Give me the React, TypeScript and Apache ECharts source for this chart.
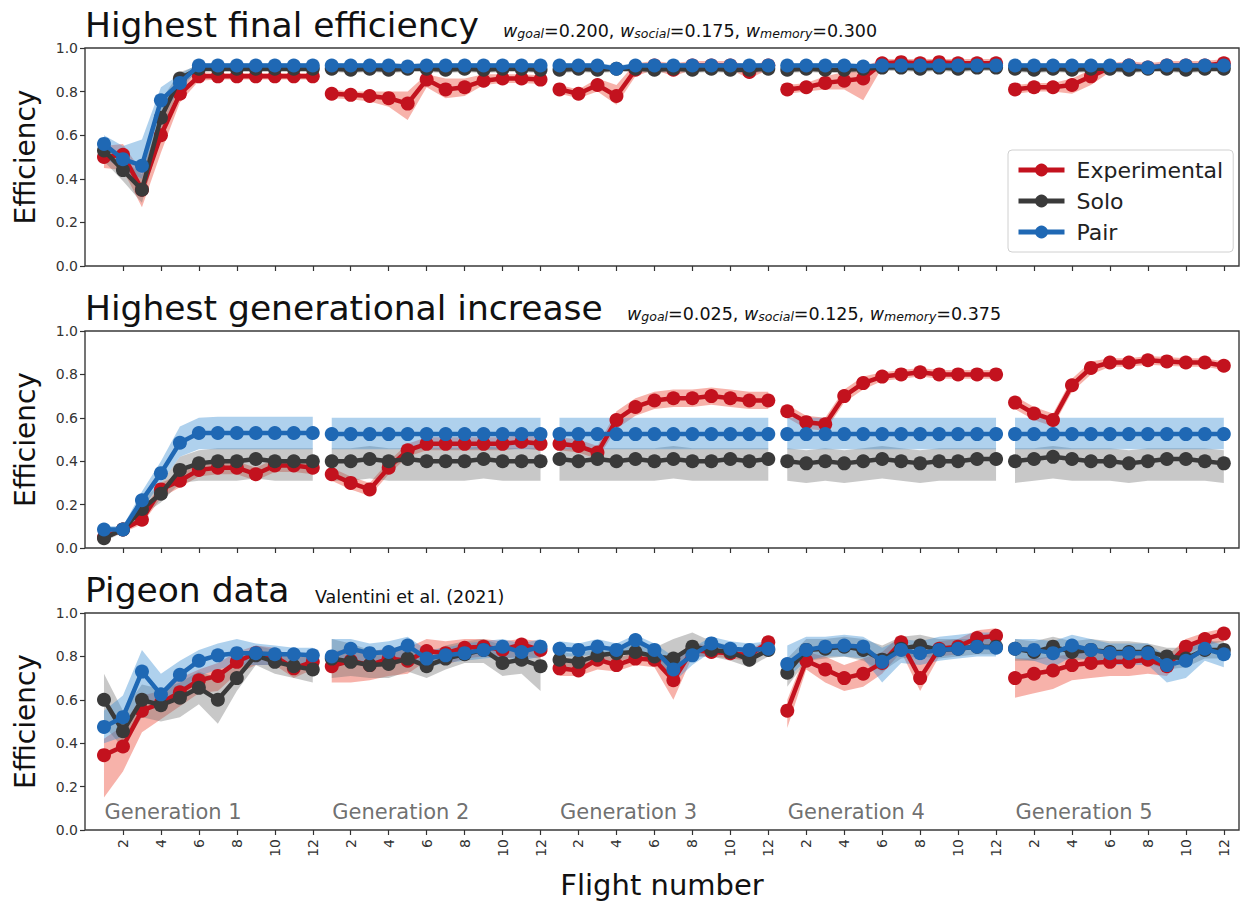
import React, { useEffect, useRef } from "react";
import * as echarts from "echarts";

// ---------------- data ----------------
const GROUPS = ["Experimental", "Solo", "Pair"];
const GENERATIONS = ["Generation 1", "Generation 2", "Generation 3", "Generation 4", "Generation 5"];
const FLIGHT_TICKS = [2, 4, 6, 8, 10, 12];
const FLIGHTS_PER_GEN = 12;
const Y_AXIS_NAME = "Efficiency";
const X_AXIS_NAME = "Flight number";

// Panel 1: Highest final efficiency
const P1_EXP = [
  0.50, 0.51, 0.35, 0.60, 0.79, 0.87, 0.87, 0.87, 0.87, 0.87, 0.87, 0.87,
  0.79, 0.785, 0.78, 0.77, 0.745, 0.855, 0.81, 0.82, 0.85, 0.86, 0.86, 0.855,
  0.81, 0.79, 0.83, 0.78, 0.90, 0.92, 0.90, 0.92, 0.92, 0.92, 0.89, 0.92,
  0.81, 0.82, 0.84, 0.85, 0.86, 0.93, 0.935, 0.93, 0.935, 0.93, 0.93, 0.93,
  0.81, 0.82, 0.82, 0.83, 0.87, 0.91, 0.92, 0.91, 0.92, 0.92, 0.92, 0.93,
];
const P1_EXP_LO = [
  0.45, 0.44, 0.27, 0.52, 0.75, 0.85, 0.855, 0.855, 0.855, 0.855, 0.855, 0.855,
  0.77, 0.765, 0.755, 0.73, 0.67, 0.82, 0.77, 0.78, 0.83, 0.84, 0.84, 0.835,
  0.79, 0.77, 0.80, 0.74, 0.87, 0.90, 0.87, 0.90, 0.90, 0.90, 0.86, 0.90,
  0.79, 0.80, 0.81, 0.81, 0.76, 0.91, 0.92, 0.91, 0.92, 0.91, 0.91, 0.91,
  0.79, 0.80, 0.80, 0.79, 0.83, 0.89, 0.90, 0.89, 0.90, 0.90, 0.90, 0.91,
];
const P1_EXP_HI = [
  0.55, 0.56, 0.43, 0.68, 0.84, 0.89, 0.885, 0.885, 0.885, 0.885, 0.885, 0.885,
  0.81, 0.80, 0.80, 0.80, 0.80, 0.88, 0.86, 0.86, 0.88, 0.88, 0.88, 0.875,
  0.83, 0.81, 0.86, 0.83, 0.93, 0.94, 0.93, 0.94, 0.94, 0.94, 0.92, 0.94,
  0.83, 0.84, 0.87, 0.89, 0.91, 0.95, 0.95, 0.95, 0.95, 0.95, 0.95, 0.95,
  0.83, 0.84, 0.84, 0.86, 0.90, 0.93, 0.94, 0.93, 0.94, 0.94, 0.94, 0.95,
];
const P1_SOLO = [
  0.53, 0.44, 0.35, 0.68, 0.86, 0.905, 0.905, 0.905, 0.905, 0.905, 0.905, 0.905,
  0.905, 0.90, 0.905, 0.90, 0.905, 0.905, 0.90, 0.905, 0.90, 0.905, 0.905, 0.90,
  0.90, 0.905, 0.90, 0.905, 0.905, 0.90, 0.905, 0.90, 0.905, 0.90, 0.90, 0.905,
  0.90, 0.905, 0.90, 0.90, 0.905, 0.91, 0.91, 0.905, 0.91, 0.905, 0.91, 0.91,
  0.905, 0.90, 0.905, 0.90, 0.905, 0.905, 0.90, 0.905, 0.905, 0.90, 0.905, 0.905,
];
const P1_SOLO_LO = [
  0.48, 0.39, 0.29, 0.60, 0.83, 0.89, 0.89, 0.89, 0.89, 0.89, 0.89, 0.89,
  0.89, 0.885, 0.89, 0.885, 0.89, 0.89, 0.885, 0.89, 0.885, 0.89, 0.89, 0.885,
  0.885, 0.89, 0.885, 0.89, 0.89, 0.885, 0.89, 0.885, 0.89, 0.885, 0.885, 0.89,
  0.885, 0.89, 0.885, 0.885, 0.89, 0.895, 0.895, 0.89, 0.895, 0.89, 0.895, 0.895,
  0.89, 0.885, 0.89, 0.885, 0.89, 0.89, 0.885, 0.89, 0.89, 0.885, 0.89, 0.89,
];
const P1_SOLO_HI = [
  0.58, 0.49, 0.42, 0.76, 0.89, 0.92, 0.92, 0.92, 0.92, 0.92, 0.92, 0.92,
  0.92, 0.915, 0.92, 0.915, 0.92, 0.92, 0.915, 0.92, 0.915, 0.92, 0.92, 0.915,
  0.915, 0.92, 0.915, 0.92, 0.92, 0.915, 0.92, 0.915, 0.92, 0.915, 0.915, 0.92,
  0.915, 0.92, 0.915, 0.915, 0.92, 0.925, 0.925, 0.92, 0.925, 0.92, 0.925, 0.925,
  0.92, 0.915, 0.92, 0.915, 0.92, 0.92, 0.915, 0.92, 0.92, 0.915, 0.92, 0.92,
];
const P1_PAIR = [
  0.56, 0.49, 0.46, 0.76, 0.84, 0.92, 0.92, 0.92, 0.92, 0.92, 0.92, 0.92,
  0.92, 0.92, 0.92, 0.92, 0.915, 0.92, 0.92, 0.92, 0.92, 0.92, 0.92, 0.92,
  0.92, 0.92, 0.92, 0.905, 0.92, 0.92, 0.92, 0.92, 0.92, 0.92, 0.92, 0.92,
  0.92, 0.92, 0.92, 0.92, 0.915, 0.92, 0.92, 0.92, 0.92, 0.92, 0.92, 0.92,
  0.92, 0.92, 0.92, 0.92, 0.92, 0.92, 0.92, 0.91, 0.92, 0.92, 0.92, 0.92,
];
const P1_PAIR_LO = [
  0.50, 0.44, 0.40, 0.70, 0.80, 0.91, 0.91, 0.91, 0.91, 0.91, 0.91, 0.91,
  0.91, 0.91, 0.91, 0.91, 0.905, 0.91, 0.91, 0.91, 0.91, 0.91, 0.91, 0.91,
  0.91, 0.91, 0.91, 0.89, 0.91, 0.91, 0.91, 0.91, 0.91, 0.91, 0.91, 0.91,
  0.91, 0.91, 0.91, 0.91, 0.905, 0.91, 0.91, 0.91, 0.91, 0.91, 0.91, 0.91,
  0.91, 0.91, 0.91, 0.91, 0.91, 0.91, 0.91, 0.895, 0.91, 0.91, 0.91, 0.91,
];
const P1_PAIR_HI = [
  0.60, 0.55, 0.58, 0.82, 0.88, 0.93, 0.93, 0.93, 0.93, 0.93, 0.93, 0.93,
  0.93, 0.93, 0.93, 0.93, 0.925, 0.93, 0.93, 0.93, 0.93, 0.93, 0.93, 0.93,
  0.93, 0.93, 0.93, 0.92, 0.93, 0.93, 0.93, 0.93, 0.93, 0.93, 0.93, 0.93,
  0.93, 0.93, 0.93, 0.93, 0.925, 0.93, 0.93, 0.93, 0.93, 0.93, 0.93, 0.93,
  0.93, 0.93, 0.93, 0.93, 0.93, 0.93, 0.93, 0.925, 0.93, 0.93, 0.93, 0.93,
];

// Panel 2: Highest generational increase
const P2_EXP = [
  0.05, 0.085, 0.13, 0.27, 0.31, 0.36, 0.37, 0.37, 0.34, 0.38, 0.38, 0.37,
  0.34, 0.30, 0.27, 0.37, 0.45, 0.48, 0.48, 0.48, 0.48, 0.48, 0.49, 0.48,
  0.48, 0.47, 0.44, 0.59, 0.65, 0.68, 0.69, 0.69, 0.70, 0.69, 0.68, 0.68,
  0.63, 0.58, 0.57, 0.70, 0.76, 0.79, 0.80, 0.81, 0.80, 0.80, 0.80, 0.80,
  0.67, 0.62, 0.59, 0.75, 0.83, 0.855, 0.855, 0.865, 0.86, 0.855, 0.855, 0.84,
];
const P2_EXP_LO = [
  0.04, 0.07, 0.11, 0.23, 0.28, 0.33, 0.34, 0.34, 0.31, 0.35, 0.35, 0.34,
  0.31, 0.27, 0.24, 0.34, 0.42, 0.45, 0.45, 0.45, 0.45, 0.45, 0.46, 0.45,
  0.45, 0.44, 0.41, 0.55, 0.61, 0.64, 0.65, 0.65, 0.66, 0.65, 0.64, 0.64,
  0.60, 0.55, 0.54, 0.67, 0.73, 0.77, 0.78, 0.79, 0.78, 0.78, 0.78, 0.78,
  0.64, 0.59, 0.56, 0.72, 0.80, 0.835, 0.835, 0.845, 0.84, 0.835, 0.835, 0.82,
];
const P2_EXP_HI = [
  0.07, 0.10, 0.16, 0.30, 0.34, 0.39, 0.40, 0.40, 0.37, 0.41, 0.41, 0.40,
  0.37, 0.33, 0.30, 0.40, 0.48, 0.51, 0.51, 0.51, 0.51, 0.51, 0.52, 0.51,
  0.51, 0.50, 0.47, 0.63, 0.69, 0.72, 0.73, 0.73, 0.74, 0.73, 0.72, 0.72,
  0.66, 0.61, 0.60, 0.73, 0.79, 0.81, 0.82, 0.83, 0.82, 0.82, 0.82, 0.82,
  0.70, 0.65, 0.62, 0.78, 0.86, 0.875, 0.875, 0.885, 0.88, 0.875, 0.875, 0.86,
];
const P2_SOLO = [
  0.045, 0.085, 0.18, 0.25, 0.36, 0.39, 0.40, 0.40, 0.41, 0.40, 0.40, 0.40,
  0.40, 0.40, 0.41, 0.40, 0.41, 0.40, 0.40, 0.40, 0.41, 0.40, 0.40, 0.40,
  0.41, 0.40, 0.41, 0.40, 0.41, 0.40, 0.41, 0.40, 0.40, 0.41, 0.40, 0.41,
  0.40, 0.39, 0.40, 0.39, 0.40, 0.41, 0.40, 0.39, 0.40, 0.40, 0.41, 0.41,
  0.40, 0.41, 0.42, 0.41, 0.40, 0.40, 0.39, 0.40, 0.41, 0.41, 0.40, 0.39,
];
const P2_SOLO_LO = [
  0.03, 0.07, 0.15, 0.21, 0.30, 0.31, 0.31, 0.31, 0.32, 0.31, 0.31, 0.31,
  0.31, 0.31, 0.32, 0.31, 0.31, 0.31, 0.31, 0.31, 0.32, 0.31, 0.31, 0.31,
  0.31, 0.31, 0.31, 0.31, 0.31, 0.31, 0.32, 0.31, 0.31, 0.31, 0.31, 0.31,
  0.31, 0.30, 0.31, 0.30, 0.31, 0.32, 0.31, 0.30, 0.31, 0.31, 0.31, 0.31,
  0.30, 0.31, 0.32, 0.31, 0.31, 0.31, 0.30, 0.31, 0.31, 0.31, 0.31, 0.30,
];
const P2_SOLO_HI = [
  0.07, 0.10, 0.22, 0.30, 0.42, 0.45, 0.46, 0.46, 0.46, 0.46, 0.46, 0.46,
  0.46, 0.46, 0.47, 0.46, 0.46, 0.46, 0.46, 0.46, 0.47, 0.46, 0.46, 0.46,
  0.46, 0.46, 0.46, 0.46, 0.46, 0.46, 0.47, 0.46, 0.46, 0.46, 0.46, 0.46,
  0.46, 0.45, 0.46, 0.45, 0.46, 0.47, 0.46, 0.45, 0.46, 0.46, 0.46, 0.46,
  0.46, 0.46, 0.47, 0.46, 0.46, 0.46, 0.45, 0.46, 0.46, 0.46, 0.46, 0.45,
];
const P2_PAIR = [
  0.085, 0.085, 0.22, 0.345, 0.485, 0.53, 0.53, 0.53, 0.53, 0.53, 0.53, 0.53,
  0.525, 0.525, 0.525, 0.525, 0.525, 0.525, 0.525, 0.525, 0.525, 0.525, 0.525, 0.525,
  0.525, 0.525, 0.525, 0.525, 0.525, 0.525, 0.525, 0.525, 0.525, 0.525, 0.525, 0.525,
  0.525, 0.525, 0.525, 0.525, 0.525, 0.525, 0.525, 0.525, 0.525, 0.525, 0.525, 0.525,
  0.525, 0.525, 0.525, 0.525, 0.525, 0.525, 0.525, 0.525, 0.525, 0.525, 0.525, 0.525,
];
const P2_PAIR_LO = [
  0.06, 0.07, 0.18, 0.30, 0.42, 0.455, 0.455, 0.455, 0.455, 0.455, 0.455, 0.455,
  0.455, 0.455, 0.455, 0.455, 0.455, 0.455, 0.455, 0.455, 0.455, 0.455, 0.455, 0.455,
  0.455, 0.455, 0.455, 0.455, 0.455, 0.455, 0.455, 0.455, 0.455, 0.455, 0.455, 0.455,
  0.455, 0.455, 0.455, 0.455, 0.455, 0.455, 0.455, 0.455, 0.455, 0.455, 0.455, 0.455,
  0.455, 0.455, 0.455, 0.455, 0.455, 0.455, 0.455, 0.455, 0.455, 0.455, 0.455, 0.455,
];
const P2_PAIR_HI = [
  0.10, 0.10, 0.26, 0.40, 0.56, 0.60, 0.605, 0.605, 0.605, 0.605, 0.605, 0.605,
  0.60, 0.60, 0.60, 0.60, 0.60, 0.60, 0.60, 0.60, 0.60, 0.60, 0.60, 0.60,
  0.60, 0.60, 0.60, 0.60, 0.60, 0.60, 0.60, 0.60, 0.60, 0.60, 0.60, 0.60,
  0.60, 0.60, 0.60, 0.60, 0.60, 0.60, 0.60, 0.60, 0.60, 0.60, 0.60, 0.60,
  0.60, 0.60, 0.60, 0.60, 0.60, 0.60, 0.60, 0.60, 0.60, 0.60, 0.60, 0.60,
];

// Panel 3: Pigeon data
const P3_EXP = [
  0.345, 0.385, 0.55, 0.585, 0.635, 0.69, 0.71, 0.775, 0.815, 0.80, 0.745, 0.775,
  0.755, 0.78, 0.76, 0.79, 0.78, 0.825, 0.815, 0.84, 0.845, 0.83, 0.855, 0.83,
  0.745, 0.735, 0.785, 0.76, 0.79, 0.785, 0.69, 0.83, 0.82, 0.815, 0.805, 0.865,
  0.55, 0.78, 0.74, 0.70, 0.72, 0.77, 0.865, 0.70, 0.835, 0.845, 0.885, 0.895,
  0.70, 0.72, 0.735, 0.76, 0.77, 0.775, 0.775, 0.785, 0.755, 0.845, 0.88, 0.905,
];
const P3_EXP_LO = [
  0.15, 0.27, 0.45, 0.51, 0.57, 0.63, 0.64, 0.72, 0.76, 0.76, 0.70, 0.74,
  0.68, 0.68, 0.69, 0.71, 0.72, 0.78, 0.76, 0.79, 0.80, 0.79, 0.80, 0.79,
  0.71, 0.71, 0.74, 0.73, 0.76, 0.75, 0.60, 0.80, 0.80, 0.79, 0.78, 0.84,
  0.47, 0.74, 0.68, 0.64, 0.66, 0.72, 0.82, 0.64, 0.80, 0.81, 0.85, 0.86,
  0.61, 0.63, 0.65, 0.69, 0.70, 0.71, 0.71, 0.72, 0.71, 0.81, 0.85, 0.87,
];
const P3_EXP_HI = [
  0.42, 0.48, 0.62, 0.64, 0.70, 0.74, 0.77, 0.82, 0.85, 0.84, 0.79, 0.81,
  0.82, 0.84, 0.82, 0.84, 0.84, 0.88, 0.87, 0.88, 0.88, 0.87, 0.88, 0.87,
  0.80, 0.78, 0.81, 0.79, 0.82, 0.81, 0.77, 0.86, 0.85, 0.84, 0.83, 0.88,
  0.60, 0.82, 0.80, 0.76, 0.79, 0.82, 0.90, 0.78, 0.87, 0.88, 0.92, 0.93,
  0.79, 0.79, 0.80, 0.81, 0.82, 0.82, 0.82, 0.83, 0.80, 0.88, 0.91, 0.93,
];
const P3_SOLO = [
  0.60, 0.455, 0.60, 0.575, 0.61, 0.655, 0.60, 0.70, 0.805, 0.775, 0.755, 0.74,
  0.79, 0.775, 0.76, 0.765, 0.79, 0.755, 0.79, 0.81, 0.83, 0.77, 0.785, 0.755,
  0.785, 0.775, 0.805, 0.815, 0.82, 0.80, 0.79, 0.845, 0.83, 0.82, 0.785, 0.83,
  0.725, 0.83, 0.835, 0.845, 0.83, 0.785, 0.835, 0.85, 0.83, 0.835, 0.845, 0.845,
  0.835, 0.82, 0.845, 0.82, 0.83, 0.82, 0.82, 0.82, 0.80, 0.79, 0.83, 0.83,
];
const P3_SOLO_LO = [
  0.48, 0.38, 0.52, 0.50, 0.52, 0.58, 0.49, 0.64, 0.76, 0.72, 0.70, 0.68,
  0.70, 0.71, 0.70, 0.70, 0.73, 0.70, 0.74, 0.77, 0.77, 0.71, 0.72, 0.64,
  0.75, 0.75, 0.77, 0.78, 0.79, 0.77, 0.73, 0.80, 0.80, 0.78, 0.75, 0.80,
  0.66, 0.78, 0.79, 0.80, 0.78, 0.73, 0.79, 0.80, 0.79, 0.80, 0.81, 0.81,
  0.78, 0.78, 0.80, 0.78, 0.79, 0.77, 0.77, 0.77, 0.74, 0.75, 0.79, 0.79,
];
const P3_SOLO_HI = [
  0.72, 0.55, 0.67, 0.65, 0.68, 0.73, 0.70, 0.77, 0.85, 0.83, 0.80, 0.80,
  0.88, 0.86, 0.83, 0.83, 0.85, 0.81, 0.85, 0.87, 0.88, 0.85, 0.86, 0.84,
  0.82, 0.81, 0.84, 0.85, 0.86, 0.84, 0.88, 0.91, 0.87, 0.85, 0.81, 0.86,
  0.79, 0.88, 0.88, 0.89, 0.88, 0.85, 0.89, 0.90, 0.88, 0.88, 0.88, 0.88,
  0.88, 0.87, 0.89, 0.87, 0.88, 0.87, 0.87, 0.86, 0.84, 0.84, 0.87, 0.87,
];
const P3_PAIR = [
  0.475, 0.52, 0.73, 0.625, 0.715, 0.78, 0.805, 0.815, 0.815, 0.81, 0.81, 0.805,
  0.80, 0.835, 0.815, 0.82, 0.85, 0.79, 0.805, 0.815, 0.83, 0.845, 0.82, 0.845,
  0.835, 0.83, 0.845, 0.83, 0.875, 0.83, 0.74, 0.805, 0.86, 0.835, 0.83, 0.835,
  0.765, 0.83, 0.845, 0.85, 0.845, 0.775, 0.83, 0.815, 0.83, 0.835, 0.845, 0.84,
  0.835, 0.83, 0.815, 0.85, 0.83, 0.815, 0.815, 0.815, 0.76, 0.78, 0.835, 0.81,
];
const P3_PAIR_LO = [
  0.40, 0.43, 0.62, 0.55, 0.63, 0.71, 0.74, 0.76, 0.76, 0.76, 0.76, 0.76,
  0.74, 0.79, 0.77, 0.78, 0.80, 0.75, 0.77, 0.78, 0.79, 0.80, 0.78, 0.80,
  0.80, 0.80, 0.81, 0.80, 0.84, 0.79, 0.68, 0.76, 0.82, 0.81, 0.80, 0.81,
  0.70, 0.78, 0.80, 0.80, 0.79, 0.68, 0.77, 0.76, 0.78, 0.79, 0.80, 0.80,
  0.79, 0.78, 0.75, 0.80, 0.78, 0.76, 0.76, 0.76, 0.68, 0.70, 0.78, 0.75,
];
const P3_PAIR_HI = [
  0.55, 0.62, 0.83, 0.72, 0.78, 0.83, 0.86, 0.88, 0.86, 0.85, 0.84, 0.84,
  0.88, 0.88, 0.86, 0.87, 0.89, 0.83, 0.84, 0.86, 0.87, 0.88, 0.86, 0.88,
  0.87, 0.86, 0.88, 0.86, 0.90, 0.86, 0.80, 0.84, 0.89, 0.87, 0.86, 0.87,
  0.85, 0.89, 0.89, 0.90, 0.89, 0.84, 0.88, 0.87, 0.89, 0.90, 0.91, 0.91,
  0.88, 0.88, 0.87, 0.90, 0.88, 0.86, 0.86, 0.86, 0.80, 0.83, 0.88, 0.85,
];

// ---------------- presentation ----------------
const FONT = "DejaVu Sans";
const LINE_COLORS = ["#c3121e", "#3a3a3a", "#1f68b4"];
const BAND_COLORS = ["rgba(236,72,52,0.42)", "rgba(110,110,110,0.38)", "rgba(55,140,210,0.40)"];

const PANELS = [
  {
    title: "Highest final efficiency",
    note: [["goal", "0.200"], ["social", "0.175"], ["memory", "0.300"]],
    series: [[P1_EXP, P1_EXP_LO, P1_EXP_HI], [P1_SOLO, P1_SOLO_LO, P1_SOLO_HI], [P1_PAIR, P1_PAIR_LO, P1_PAIR_HI]],
  },
  {
    title: "Highest generational increase",
    note: [["goal", "0.025"], ["social", "0.125"], ["memory", "0.375"]],
    series: [[P2_EXP, P2_EXP_LO, P2_EXP_HI], [P2_SOLO, P2_SOLO_LO, P2_SOLO_HI], [P2_PAIR, P2_PAIR_LO, P2_PAIR_HI]],
  },
  {
    title: "Pigeon data",
    cite: "Valentini et al. (2021)",
    series: [[P3_EXP, P3_EXP_LO, P3_EXP_HI], [P3_SOLO, P3_SOLO_LO, P3_SOLO_HI], [P3_PAIR, P3_PAIR_LO, P3_PAIR_HI]],
  },
];

const GRID_TOPS = [48, 331, 613];
const GRID_HEIGHTS = [218, 217, 217];
const TITLE_TOPS = [5, 288, 570];
const SUBTITLE_LEFTS = [503, 627, 315];
const SUBTITLE_TOPS = [20, 303, 586];
const X_MIN = 0;
const X_MAX = 60.8;

function buildOption() {
  const nGen = GENERATIONS.length;
  const tickValues: number[] = [];
  for (let g = 0; g < nGen; g++) FLIGHT_TICKS.forEach((f) => tickValues.push(g * FLIGHTS_PER_GEN + f));

  const grid = PANELS.map((_, p) => ({
    left: 85,
    right: 5,
    top: GRID_TOPS[p],
    height: GRID_HEIGHTS[p],
    show: true,
    borderColor: "#3a3a3a",
    borderWidth: 1.4,
    backgroundColor: "transparent",
  }));

  const xAxis = PANELS.map((_, p) => ({
    type: "value",
    gridIndex: p,
    min: X_MIN,
    max: X_MAX,
    axisLine: { show: false },
    splitLine: { show: false },
    axisTick: {
      show: true,
      customValues: tickValues,
      length: 5,
      inside: false,
      lineStyle: { color: "#333", width: 1.2 },
    },
    axisLabel: {
      show: p === PANELS.length - 1,
      customValues: tickValues,
      rotate: 90,
      margin: 9,
      fontSize: 14,
      color: "#333",
      fontFamily: FONT,
      formatter: (v: number) => String(((Math.round(v) - 1) % FLIGHTS_PER_GEN) + 1),
    },
    name: p === PANELS.length - 1 ? X_AXIS_NAME : "",
    nameLocation: "middle",
    nameGap: 40,
    nameTextStyle: { fontSize: 29, color: "#111", fontFamily: FONT },
  }));

  const yAxis = PANELS.map((_, p) => ({
    type: "value",
    gridIndex: p,
    min: 0,
    max: 1,
    interval: 0.2,
    axisLine: { show: false },
    splitLine: { show: false },
    axisTick: { show: true, length: 5, inside: false, lineStyle: { color: "#333", width: 1.2 } },
    axisLabel: {
      fontSize: 14,
      color: "#333",
      margin: 7,
      fontFamily: FONT,
      formatter: (v: number) => v.toFixed(1),
    },
    name: Y_AXIS_NAME,
    nameLocation: "middle",
    nameGap: 46,
    nameTextStyle: { fontSize: 28, color: "#111", fontFamily: FONT },
  }));

  const base = { fontWeight: "normal", color: "#111", fontFamily: FONT, verticalAlign: "bottom" };
  const subRich = {
    w: { ...base, fontSize: 17.5, lineHeight: 20, fontStyle: "italic" },
    sub: { ...base, fontSize: 12.5, lineHeight: 12, fontStyle: "italic" },
    n: { ...base, fontSize: 17.5, lineHeight: 20 },
  };

  const title: any[] = [];
  PANELS.forEach((panel: any, p) => {
    title.push({
      left: 85,
      top: TITLE_TOPS[p],
      padding: 0,
      text: panel.title,
      textStyle: { fontSize: 34.5, lineHeight: 40, fontWeight: "normal", color: "#111", fontFamily: FONT },
    });
    let sub = "";
    if (panel.note) {
      sub = panel.note
        .map(([k, v]: string[], i: number) => `{w|w}{sub|${k}}{n|=${v}${i < panel.note.length - 1 ? ", " : ""}}`)
        .join("");
    } else {
      sub = `{n|${panel.cite}}`;
    }
    title.push({
      left: SUBTITLE_LEFTS[p],
      top: SUBTITLE_TOPS[p],
      padding: 0,
      text: sub,
      textStyle: { rich: subRich, fontFamily: FONT, fontWeight: "normal" },
    });
  });

  const series: any[] = [];
  // bands first
  PANELS.forEach((panel, p) => {
    panel.series.forEach(([, lo, hi], k) => {
      series.push({
        type: "custom",
        name: `band-${p}-${k}`,
        xAxisIndex: p,
        yAxisIndex: p,
        silent: true,
        z: 1,
        data: GENERATIONS.map((_, g) => [g * FLIGHTS_PER_GEN + 1, lo[g * FLIGHTS_PER_GEN]]),
        renderItem: (params: any, api: any) => {
          const g = params.dataIndex;
          const top: number[][] = [];
          const bot: number[][] = [];
          for (let f = 0; f < FLIGHTS_PER_GEN; f++) {
            const i = g * FLIGHTS_PER_GEN + f;
            top.push(api.coord([i + 1, hi[i]]));
            bot.push(api.coord([i + 1, lo[i]]));
          }
          return {
            type: "polygon",
            shape: { points: top.concat(bot.reverse()) },
            style: { fill: BAND_COLORS[k], stroke: "none" },
          };
        },
      });
    });
  });
  // lines
  PANELS.forEach((panel, p) => {
    panel.series.forEach(([mean], k) => {
      const data: any[] = [];
      mean.forEach((v, i) => {
        data.push([i + 1, v]);
        if (i % FLIGHTS_PER_GEN === FLIGHTS_PER_GEN - 1 && i < mean.length - 1) data.push([i + 1.5, null]);
      });
      series.push({
        type: "line",
        name: GROUPS[k],
        xAxisIndex: p,
        yAxisIndex: p,
        data,
        symbol: "circle",
        symbolSize: 14,
        showSymbol: true,
        showAllSymbol: true,
        connectNulls: false,
        lineStyle: { width: 4.5, color: LINE_COLORS[k] },
        itemStyle: { color: LINE_COLORS[k] },
        emphasis: { disabled: true },
        silent: true,
        z: 3 + k,
      });
    });
  });
  // generation labels on the last panel
  const last = PANELS.length - 1;
  series.push({
    type: "scatter",
    name: "generations",
    xAxisIndex: last,
    yAxisIndex: last,
    symbolSize: 1,
    itemStyle: { color: "rgba(0,0,0,0)" },
    silent: true,
    z: 10,
    data: GENERATIONS.map((name, g) => ({ name, value: [g * FLIGHTS_PER_GEN + 1, 0.083] })),
    label: {
      show: true,
      position: "right",
      distance: 0,
      formatter: "{b}",
      fontSize: 21,
      color: "#4a4a4a",
      fontFamily: FONT,
    },
  });

  return {
    animation: false,
    backgroundColor: "#fff",
    textStyle: { fontFamily: FONT },
    title,
    grid,
    xAxis,
    yAxis,
    legend: {
      data: GROUPS,
      orient: "vertical",
      left: 1008,
      top: 150,
      itemWidth: 46,
      itemHeight: 16,
      itemGap: 9,
      padding: [9, 10, 9, 8],
      backgroundColor: "#fff",
      borderColor: "#d0d0d0",
      borderWidth: 1,
      borderRadius: 4,
      selectedMode: false,
      lineStyle: { width: 5 },
      textStyle: { fontSize: 22, color: "#222", fontFamily: FONT, padding: [0, 0, 0, 7] },
    },
    series,
  };
}

export default function App() {
  const ref = useRef<HTMLDivElement>(null);
  useEffect(() => {
    if (!ref.current) return;
    const chart = echarts.init(ref.current, undefined, { renderer: "svg" });
    chart.setOption(buildOption() as any);
    return () => chart.dispose();
  }, []);
  return (
    <div
      ref={ref}
      style={{ position: "fixed", left: 0, top: 0, width: 1244, height: 903, background: "#fff" }}
    />
  );
}
